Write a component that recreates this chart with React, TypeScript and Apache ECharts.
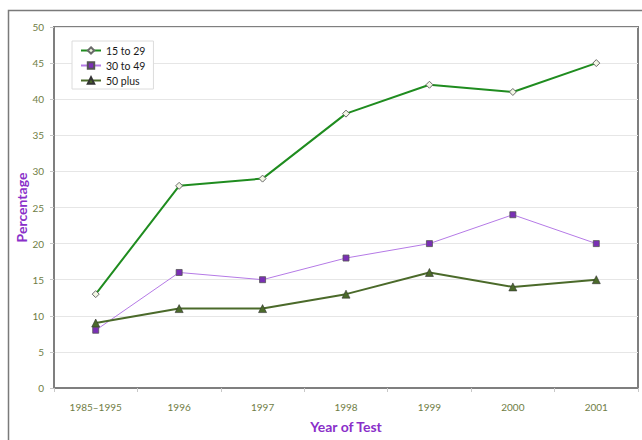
import React, { useEffect, useRef } from "react";
import * as echarts from "echarts";

const categories = ["1985–1995", "1996", "1997", "1998", "1999", "2000", "2001"];
const age15to29 = [13, 28, 29, 38, 42, 41, 45];
const age30to49 = [8, 16, 15, 18, 20, 24, 20];
const age50plus = [9, 11, 11, 13, 16, 14, 15];

const FONT = "Lato, 'Open Sans', sans-serif";
const LABEL_COLOR = "#6f7d45";
const TITLE_COLOR = "#8a2fc9";

export default function App() {
  const ref = useRef<HTMLDivElement>(null);
  useEffect(() => {
    if (!ref.current) return;
    const chart = echarts.init(ref.current, undefined, { renderer: "svg" });
    chart.setOption({
      animation: false,
      backgroundColor: "#ffffff",
      textStyle: { fontFamily: FONT },
      graphic: [
        {
          type: "rect",
          shape: { x: 8.5, y: 10.5, width: 700, height: 500 },
          style: { fill: "none", stroke: "#7a7a7a", lineWidth: 1.5 },
          silent: true,
          z: -10,
        },
      ],
      grid: {
        left: 54,
        top: 27,
        width: 584,
        height: 361,
        containLabel: false,
        outerBoundsMode: "none",
        show: true,
        borderColor: "#7f7f7f",
        borderWidth: 2,
        backgroundColor: "transparent",
      },
      legend: {
        left: 72,
        top: 41,
        orient: "vertical",
        backgroundColor: "#ffffff",
        borderColor: "#dcdcdc",
        borderWidth: 1,
        padding: [4, 8, 3, 8],
        itemGap: 4,
        itemWidth: 20,
        itemHeight: 8,
        textStyle: { fontFamily: FONT, fontSize: 10.5, color: "#1a1a1a" },
        data: ["15 to 29", "30 to 49", "50 plus"],
      },
      xAxis: {
        type: "category",
        data: categories,
        boundaryGap: true,
        name: "Year of Test",
        nameLocation: "middle",
        nameGap: 31,
        nameMoveOverlap: false,
        nameTextStyle: { color: TITLE_COLOR, fontSize: 14, fontWeight: "bold", fontFamily: FONT },
        axisLine: { show: true, lineStyle: { color: "#7f7f7f", width: 2 } },
        axisTick: { show: true, length: 4, lineStyle: { color: "#c8c8c8" } },
        axisLabel: { color: LABEL_COLOR, fontSize: 10, margin: 14, fontFamily: FONT },
        splitLine: { show: false },
      },
      yAxis: {
        type: "value",
        min: 0,
        max: 50,
        interval: 5,
        name: "Percentage",
        nameLocation: "middle",
        nameGap: 26,
        nameMoveOverlap: false,
        nameTextStyle: { color: TITLE_COLOR, fontSize: 14, fontWeight: "bold", fontFamily: FONT },
        axisLine: { show: true, lineStyle: { color: "#7f7f7f", width: 2 } },
        axisTick: { show: true, length: 4, lineStyle: { color: "#c8c8c8" } },
        axisLabel: { color: LABEL_COLOR, fontSize: 10, margin: 10, fontFamily: FONT },
        splitLine: { show: true, lineStyle: { color: "#e6e6e6", width: 1 } },
      },
      series: [
        {
          name: "15 to 29",
          type: "line",
          data: age15to29,
          symbol: "diamond",
          symbolSize: 7,
          showAllSymbol: true,
          lineStyle: { color: "#1f8c1f", width: 2 },
          itemStyle: { color: "#f2f6e4", borderColor: "#6a6a6a", borderWidth: 1 },
          z: 3,
        },
        {
          name: "30 to 49",
          type: "line",
          data: age30to49,
          symbol: "rect",
          symbolSize: 6,
          lineStyle: { color: "#b57ae6", width: 1 },
          itemStyle: { color: "#7a2fb5", borderColor: "#555", borderWidth: 0.8 },
          z: 2,
        },
        {
          name: "50 plus",
          type: "line",
          data: age50plus,
          symbol: "triangle",
          symbolSize: 8,
          lineStyle: { color: "#4b6a2a", width: 2 },
          itemStyle: { color: "#4b6a2a", borderColor: "#333", borderWidth: 0.6 },
          z: 2,
        },
      ],
    });
    return () => chart.dispose();
  }, []);
  return (
    <div
      ref={ref}
      style={{ position: "fixed", left: 0, top: 0, width: 642, height: 440 }}
    />
  );
}
